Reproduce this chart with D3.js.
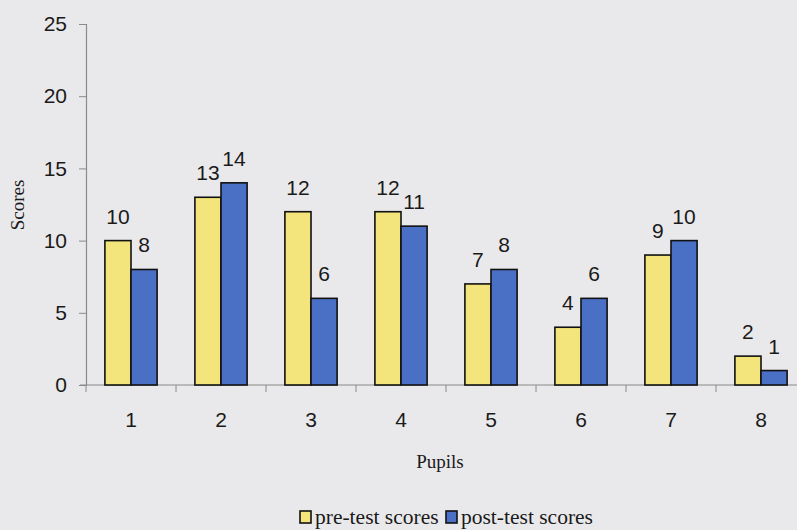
<!DOCTYPE html>
<html>
<head>
<meta charset="utf-8">
<script src="https://cdn.jsdelivr.net/npm/d3@7"></script>
<style>
  html, body { margin: 0; padding: 0; background: #e9e9eb; }
  svg { display: block; }
</style>
</head>
<body>
<svg id="chart" width="797" height="530"></svg>
<script>
// Data
const pupils = ['1', '2', '3', '4', '5', '6', '7', '8'];
const preScores = [10, 13, 12, 12, 7, 4, 9, 2];
const postScores = [8, 14, 6, 11, 8, 6, 10, 1];
const yTicks = [0, 5, 10, 15, 20, 25];
const seriesNames = ['pre-test scores', 'post-test scores'];
const seriesColors = ['#f3e57c', '#4a70c6'];

const svg = d3.select('#chart');
const plotLeft = 86, plotRight = 806, plotTop = 24, plotBottom = 385;

const x = d3.scaleBand().domain(pupils).range([plotLeft, plotRight]).paddingInner(0.42).paddingOuter(0.21);
const xb = d3.scaleBand().domain([0, 1]).range([0, x.bandwidth()]);
const y = d3.scaleLinear().domain([0, 25]).range([plotBottom, plotTop]);

const sansFont = 'Arial, "Liberation Sans", sans-serif';
const serifFont = '"Times New Roman", "Liberation Serif", serif';

// y axis
const yAxis = svg.append('g')
    .attr('transform', `translate(${plotLeft},0)`)
    .call(d3.axisLeft(y).tickValues(yTicks).tickSize(7).tickPadding(12));
yAxis.select('.domain').attr('stroke', '#8a8a8a').attr('stroke-width', 1.2);
yAxis.selectAll('.tick line').attr('stroke', '#8a8a8a');
yAxis.selectAll('.tick text').attr('font-family', sansFont).attr('font-size', 21).attr('fill', '#1a1a1a');

// x axis (line + ticks at category boundaries)
const boundaries = pupils.map(p => x(p) - x.step() * x.paddingInner() / 2);
svg.append('line')
    .attr('x1', plotLeft - 6).attr('x2', 797)
    .attr('y1', plotBottom).attr('y2', plotBottom)
    .attr('stroke', '#8a8a8a').attr('stroke-width', 1.2);
svg.append('g').selectAll('line')
    .data(boundaries)
    .enter().append('line')
    .attr('x1', d => d).attr('x2', d => d)
    .attr('y1', plotBottom).attr('y2', plotBottom + 7)
    .attr('stroke', '#8a8a8a');
svg.append('g').selectAll('text')
    .data(pupils)
    .enter().append('text')
    .attr('x', d => x(d) + x.bandwidth() / 2)
    .attr('y', 427)
    .attr('text-anchor', 'middle')
    .attr('font-family', sansFont).attr('font-size', 21).attr('fill', '#1a1a1a')
    .text(d => d);

// bars
const series = [preScores, postScores];
series.forEach((vals, si) => {
    const g = svg.append('g');
    g.selectAll('rect')
        .data(vals)
        .enter().append('rect')
        .attr('x', (d, i) => x(pupils[i]) + xb(si))
        .attr('y', d => y(d))
        .attr('width', xb.bandwidth())
        .attr('height', d => plotBottom - y(d))
        .attr('fill', seriesColors[si])
        .attr('stroke', '#111')
        .attr('stroke-width', 1.6);
    g.selectAll('text')
        .data(vals)
        .enter().append('text')
        .attr('x', (d, i) => x(pupils[i]) + xb(si) + xb.bandwidth() / 2)
        .attr('y', d => y(d) - 17)
        .attr('text-anchor', 'middle')
        .attr('font-family', sansFont).attr('font-size', 21).attr('fill', '#1a1a1a')
        .text(d => d);
});

// axis titles
svg.append('text')
    .attr('transform', 'translate(24,205) rotate(-90)')
    .attr('text-anchor', 'middle')
    .attr('font-family', serifFont).attr('font-size', 19).attr('fill', '#1a1a1a')
    .text('Scores');
svg.append('text')
    .attr('x', 440).attr('y', 468)
    .attr('text-anchor', 'middle')
    .attr('font-family', serifFont).attr('font-size', 19).attr('fill', '#1a1a1a')
    .text('Pupils');

// legend
const legendX = [300, 446];
const legend = svg.append('g');
seriesNames.forEach((name, i) => {
    legend.append('rect')
        .attr('x', legendX[i]).attr('y', 511)
        .attr('width', 11).attr('height', 12)
        .attr('fill', seriesColors[i]).attr('stroke', '#111').attr('stroke-width', 1.6);
    legend.append('text')
        .attr('x', legendX[i] + 15).attr('y', 524)
        .attr('font-family', serifFont).attr('font-size', 21.5).attr('fill', '#1a1a1a')
        .text(name);
});
</script>
</body>
</html>
